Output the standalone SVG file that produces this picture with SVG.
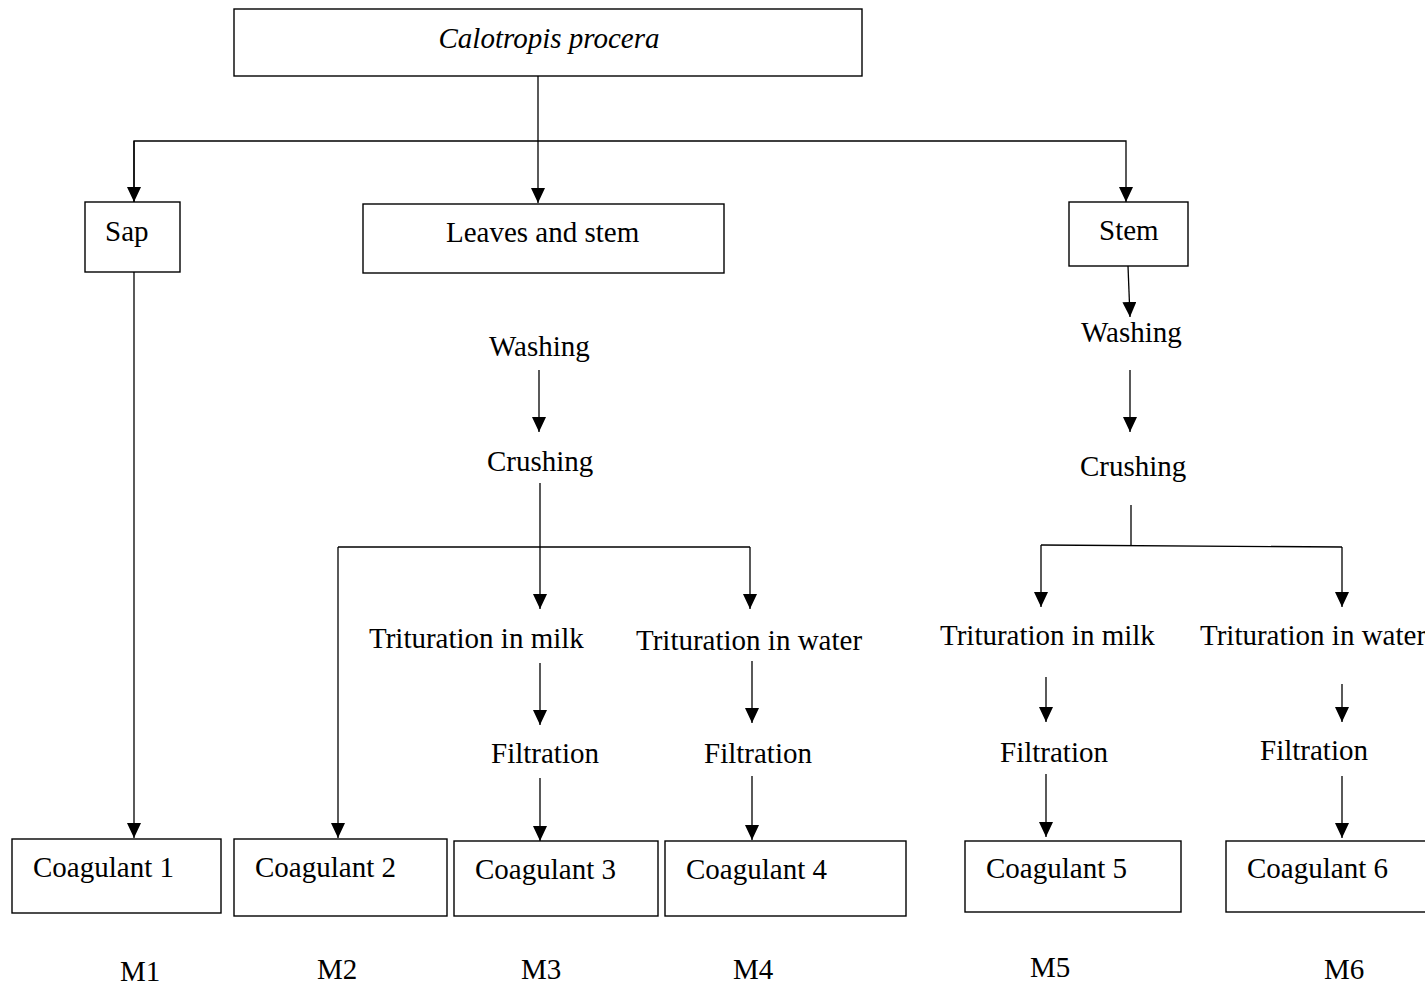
<svg xmlns="http://www.w3.org/2000/svg" width="1425" height="986" viewBox="0 0 1425 986">
<style>
.box{fill:#fff;stroke:#000;stroke-width:1.4}
.t{font-family:"Liberation Serif","Times New Roman",serif;font-size:29px;fill:#000}
.it{font-style:italic}
.c{fill:none;stroke:#000;stroke-width:1.3}
</style>
<defs>
<marker id="ah" markerUnits="userSpaceOnUse" markerWidth="16" markerHeight="16" refX="15" refY="7" orient="auto">
<path d="M0,0 L15,7 L0,14 z" fill="#000"/>
</marker>
</defs>
<rect width="1425" height="986" fill="#fff"/>
<g id="connectors">
<line class="c" x1="538" y1="76" x2="538" y2="203" marker-end="url(#ah)"/>
<polyline class="c" points="134,202 134,141 1126,141 1126,202" marker-end="url(#ah)"/>
<line class="c" x1="134" y1="141" x2="134" y2="202" marker-end="url(#ah)"/>
<line class="c" x1="134" y1="272" x2="134" y2="838" marker-end="url(#ah)"/>
<line class="c" x1="539" y1="370" x2="539" y2="432" marker-end="url(#ah)"/>
<line class="c" x1="540" y1="483" x2="540" y2="609" marker-end="url(#ah)"/>
<line class="c" x1="338" y1="547" x2="750" y2="547"/>
<line class="c" x1="338" y1="547" x2="338" y2="838" marker-end="url(#ah)"/>
<line class="c" x1="750" y1="547" x2="750" y2="609" marker-end="url(#ah)"/>
<line class="c" x1="540" y1="663" x2="540" y2="725" marker-end="url(#ah)"/>
<line class="c" x1="540" y1="778" x2="540" y2="841" marker-end="url(#ah)"/>
<line class="c" x1="752" y1="661" x2="752" y2="723" marker-end="url(#ah)"/>
<line class="c" x1="752" y1="776" x2="752" y2="840" marker-end="url(#ah)"/>
<line class="c" x1="1128" y1="266" x2="1130" y2="317" marker-end="url(#ah)"/>
<line class="c" x1="1130" y1="370" x2="1130" y2="432" marker-end="url(#ah)"/>
<line class="c" x1="1131" y1="505" x2="1131" y2="546"/>
<line class="c" x1="1041" y1="545" x2="1342" y2="547"/>
<line class="c" x1="1041" y1="545" x2="1041" y2="607" marker-end="url(#ah)"/>
<line class="c" x1="1342" y1="547" x2="1342" y2="607" marker-end="url(#ah)"/>
<line class="c" x1="1046" y1="677" x2="1046" y2="722" marker-end="url(#ah)"/>
<line class="c" x1="1046" y1="774" x2="1046" y2="837" marker-end="url(#ah)"/>
<line class="c" x1="1342" y1="684" x2="1342" y2="722" marker-end="url(#ah)"/>
<line class="c" x1="1342" y1="776" x2="1342" y2="838" marker-end="url(#ah)"/>
</g>
<g id="root"><rect class="box" x="234" y="9" width="628" height="67"/><text class="t it" x="549" y="48" text-anchor="middle">Calotropis procera</text></g>
<g id="sap"><rect class="box" x="85" y="202" width="95" height="70"/><text class="t" x="105" y="241">Sap</text></g>
<g id="leaves"><rect class="box" x="363" y="204" width="361" height="69"/><text class="t" x="446" y="242">Leaves and stem</text></g>
<g id="stem"><rect class="box" x="1069" y="202" width="119" height="64"/><text class="t" x="1099" y="240">Stem</text></g>
<g id="washing1"><text class="t" x="489" y="356">Washing</text></g>
<g id="crushing1"><text class="t" x="487" y="471">Crushing</text></g>
<g id="washing2"><text class="t" x="1081" y="342">Washing</text></g>
<g id="crushing2"><text class="t" x="1080" y="476">Crushing</text></g>
<g id="milk1"><text class="t" x="369" y="648">Trituration in milk</text></g>
<g id="water1"><text class="t" x="636" y="650">Trituration in water</text></g>
<g id="milk2"><text class="t" x="940" y="645">Trituration in milk</text></g>
<g id="water2"><text class="t" x="1200" y="645">Trituration in water</text></g>
<g id="filt1"><text class="t" x="491" y="763">Filtration</text></g>
<g id="filt2"><text class="t" x="704" y="763">Filtration</text></g>
<g id="filt3"><text class="t" x="1000" y="762">Filtration</text></g>
<g id="filt4"><text class="t" x="1260" y="760">Filtration</text></g>
<g id="coag1"><rect class="box" x="12" y="839" width="209" height="74"/><text class="t" x="33" y="877">Coagulant 1</text></g>
<g id="coag2"><rect class="box" x="234" y="839" width="213" height="77"/><text class="t" x="255" y="877">Coagulant 2</text></g>
<g id="coag3"><rect class="box" x="454" y="841" width="204" height="75"/><text class="t" x="475" y="879">Coagulant 3</text></g>
<g id="coag4"><rect class="box" x="665" y="841" width="241" height="75"/><text class="t" x="686" y="879">Coagulant 4</text></g>
<g id="coag5"><rect class="box" x="965" y="841" width="216" height="71"/><text class="t" x="986" y="878">Coagulant 5</text></g>
<g id="coag6"><rect class="box" x="1226" y="841" width="210" height="71"/><text class="t" x="1247" y="878">Coagulant 6</text></g>
<g id="labels">
<text class="t" x="120" y="981">M1</text>
<text class="t" x="317" y="979">M2</text>
<text class="t" x="521" y="979">M3</text>
<text class="t" x="733" y="979">M4</text>
<text class="t" x="1030" y="977">M5</text>
<text class="t" x="1324" y="979">M6</text>
</g>
</svg>
